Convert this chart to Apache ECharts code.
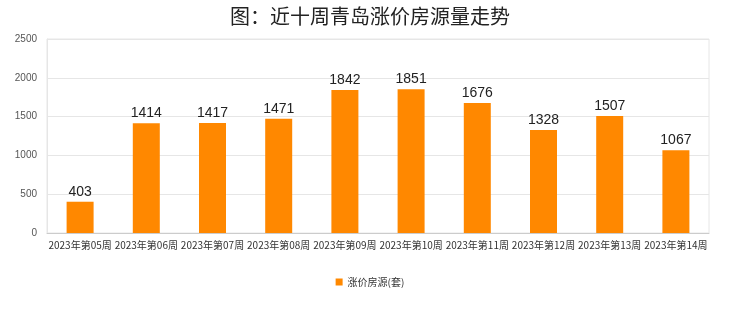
<!DOCTYPE html>
<html><head><meta charset="utf-8">
<script src="https://cdn.jsdelivr.net/npm/echarts@6/dist/echarts.min.js"></script>
<style>html,body{margin:0;padding:0;background:#fff}#c{width:740px;height:312px}</style>
</head><body><div id="c"></div>
<script>
const categories = ["2023年第05周","2023年第06周","2023年第07周","2023年第08周","2023年第09周","2023年第10周","2023年第11周","2023年第12周","2023年第13周","2023年第14周"];
const values = [403,1414,1417,1471,1842,1851,1676,1328,1507,1067];
const seriesName = "涨价房源(套)";
const titleText = "图：近十周青岛涨价房源量走势";
const chart = echarts.init(document.getElementById('c'));
chart.setOption({
  animation:false,
  title:{text:titleText,left:'center',top:1,textStyle:{fontSize:20,fontWeight:'normal',color:'#222',fontFamily:'Noto Sans CJK SC'}},
  grid:{left:47,right:31,top:39,bottom:79,show:true,borderColor:'#e6e6e6',borderWidth:1},
  legend:{bottom:20,left:'center',itemWidth:7,itemHeight:7,icon:'rect',textStyle:{fontSize:10,color:'#333',fontFamily:'Noto Sans CJK SC'}},
  xAxis:{type:'category',data:categories,axisTick:{show:false},axisLine:{lineStyle:{color:'#ccc'}},
    axisLabel:{fontSize:10,color:'#333',margin:7,interval:0,fontFamily:'Noto Sans CJK SC'}},
  yAxis:{type:'value',min:0,max:2500,interval:500,axisLine:{show:true,lineStyle:{color:'#e6e6e6'}},
    splitLine:{lineStyle:{color:'#e6e6e6'}},axisLabel:{fontSize:10,color:'#555',margin:10,formatter:v=>String(v)}},
  series:[{name:seriesName,type:'bar',data:values,barWidth:27,itemStyle:{color:'#ff8800'},
    label:{show:true,position:'top',fontSize:14,color:'#222',distance:3}}]
});
</script></body></html>
